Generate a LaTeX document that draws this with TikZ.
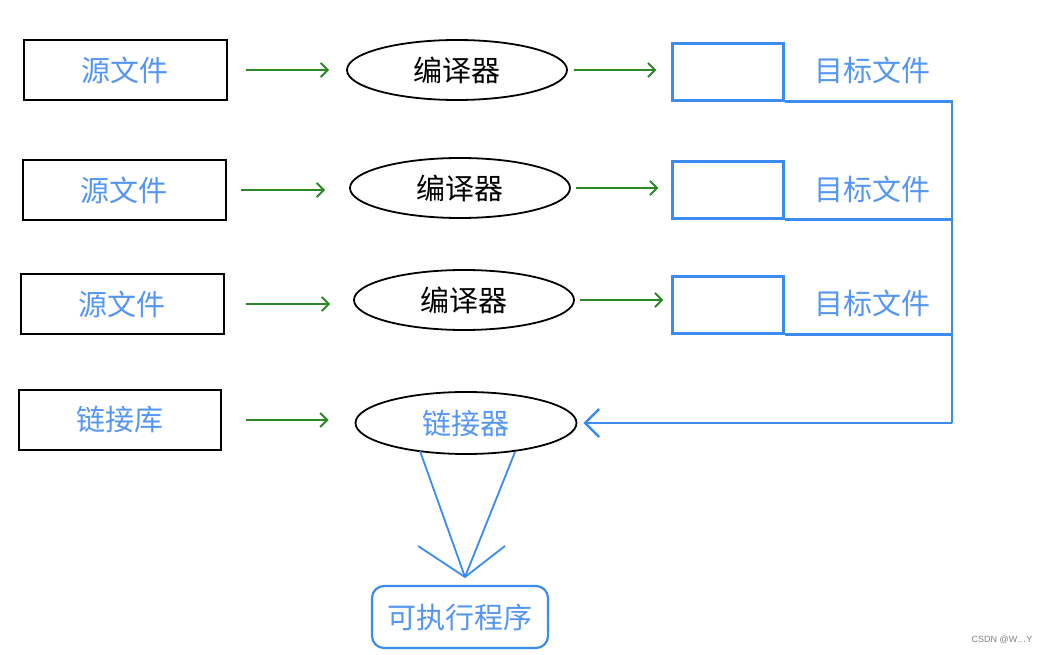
\documentclass[tikz,border=0pt]{standalone}
\usepackage{fontspec}
\setmainfont{Noto Sans CJK SC}
\newfontfamily\markfont{Liberation Sans}
\usetikzlibrary{shapes.geometric,arrows.meta,calc,positioning}
\definecolor{lineblue}{RGB}{60,140,240}
\definecolor{textblue}{RGB}{85,150,245}
\definecolor{arrowgreen}{RGB}{45,135,40}

\begin{document}
\begin{tikzpicture}[x=1pt, y=-1pt,
    every node/.style={font=\fontsize{29}{32}\selectfont, inner sep=0pt},
    srcbox/.style={draw, line width=2pt, minimum width=203pt, minimum height=60pt, text=textblue},
    tool/.style={draw, ellipse, line width=1.8pt, minimum width=220pt, minimum height=60pt},
    objbox/.style={draw=lineblue, line width=2.2pt, minimum width=111pt, minimum height=57pt},
    flow/.style={arrowgreen, line width=2pt, -{Straight Barb[length=7pt,width=14pt]}},
    bus/.style={lineblue, line width=2.4pt}]
        \fill[white] (0,0) rectangle (1050,655);
        \useasboundingbox (0,0) rectangle (1050,655);
        % Source files and compilers
        \node[srcbox] (src1) at (125,70) {源文件};
        \node[tool] (comp1) at (457,70) {编译器};
        \node[objbox] (obj1) at (728,72) {};
        \node[text=textblue] (lbl1) at (872,70) {目标文件};
        \node[srcbox] (src2) at (124,190) {源文件};
        \node[tool] (comp2) at (460,188) {编译器};
        \node[objbox] (obj2) at (728,190) {};
        \node[text=textblue] (lbl2) at (872,189) {目标文件};
        \node[srcbox] (src3) at (122,304) {源文件};
        \node[tool] (comp3) at (464,300) {编译器};
        \node[objbox] (obj3) at (728,305) {};
        \node[text=textblue] (lbl3) at (872,303) {目标文件};
        % Library and linker
        \node[srcbox, minimum width=202pt] (lib) at (120,420) {链接库};
        \node[tool, text=textblue, minimum width=221pt, minimum height=62pt] (link) at (466,423) {链接器};
        \node[draw=lineblue, line width=2.2pt, rounded corners=12pt, minimum width=176pt, minimum height=62pt, text=textblue] (exe) at (460,617) {可执行程序};
        % Green arrows
        \foreach \i/\a/\b/\c/\d in {1/18/17/6/15, 2/14/24/5/13, 3/21/23/5/8} {
            \draw[flow, shorten <=\a pt, shorten >=\b pt] (src\i.east) -- (src\i.east -| comp\i.west);
            \draw[flow, shorten <=\c pt, shorten >=\d pt] (comp\i.east) -- (comp\i.east -| obj\i.west);
        }
        \draw[flow, shorten <=24pt, shorten >=26pt] (lib.east) -- (lib.east -| link.west);
        % Object files to linker
        \coordinate (bus1) at (952,0 |- obj1.south east);
        \coordinate (bus4) at (952,0 |- link.east);
        \draw[bus] (obj1.south east) -| (bus4);
        \draw[bus] (obj2.south east) -- (obj2.south east -| bus1);
        \draw[bus] (obj3.south east) -- (obj3.south east -| bus1);
        \draw[bus, -{Straight Barb[length=14pt,width=28pt]}, shorten >=6pt] (bus4) -- (link.east);
        % Linker to executable
        \coordinate (tip) at (465,577);
        \draw[bus, line width=1.8pt] ($(link.center)+(-46,28)$) -- (tip);
        \draw[bus, line width=1.8pt] ($(link.center)+(49,29)$) -- (tip);
        \draw[bus, line width=1.8pt] ($(tip)+(-47,-31)$) -- (tip) -- ($(tip)+(40,-31)$);
        \node[font=\markfont\fontsize{9}{10}\selectfont, text=gray] (mark) at (1002,640) {CSDN @W\dots Y};
    \end{tikzpicture}
\end{document}
